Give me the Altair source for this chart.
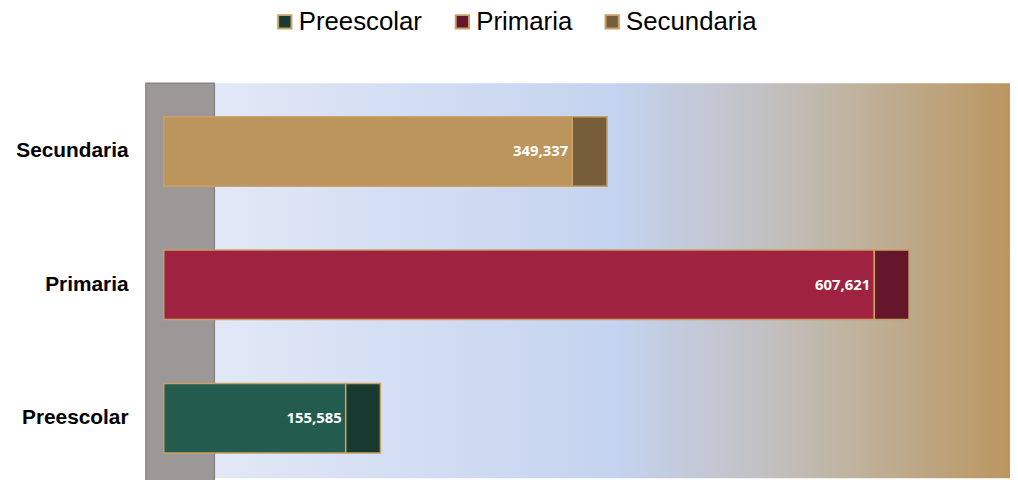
import altair as alt
import pandas as pd

categories = ["Preescolar", "Primaria", "Secundaria"]
values = [155585, 607621, 349337]
labels = ["155,585", "607,621", "349,337"]

front_colors = ["#235b4e", "#9f2241", "#bc955c"]
cap_colors = ["#183a31", "#65162a", "#775e3b"]

df = pd.DataFrame({"category": categories, "value": values, "label": labels})

W = 871
H = 398
x_domain = [-15270, 723626]
y_order = ["Secundaria", "Primaria", "Preescolar"]

ybase = alt.Y("category:N", sort=y_order,
              scale=alt.Scale(domain=y_order, paddingInner=0.4786, paddingOuter=0.2197, align=0.57),
              axis=alt.Axis(title=None, domain=False, ticks=False, labelFont="Liberation Sans",
                            labelFontWeight="bold", labelFontSize=21, labelColor="#000000",
                            labelPadding=18))
xbase = alt.X("value:Q", scale=alt.Scale(domain=x_domain, nice=False, zero=False),
              axis=None)

bg = alt.Chart(pd.DataFrame({"a": [0]})).mark_rect(
    color=alt.LinearGradient(
        gradient="linear", x1=0, x2=1, y1=0, y2=0,
        stops=[
            alt.GradientStop(offset=0.0, color="#e4eaf7"),
            alt.GradientStop(offset=0.077, color="#e2e8f6"),
            alt.GradientStop(offset=0.544, color="#c4d3ef"),
            alt.GradientStop(offset=0.705, color="#c2c2c6"),
            alt.GradientStop(offset=0.809, color="#c0b4a2"),
            alt.GradientStop(offset=1.0, color="#bb9660"),
        ],
    )
).encode(x=alt.value(0), x2=alt.value(W), y=alt.value(0), y2=alt.value(H))

wall = alt.Chart(pd.DataFrame({"a": [0]})).mark_rect(
    color="#9c9897", stroke="#888484", strokeWidth=1.5
).encode(x=alt.value(0), x2=alt.value(69), y=alt.value(0), y2=alt.value(H + 5))

front = alt.Chart(df).transform_calculate(face="datum.category").mark_bar(
    stroke="#c9a066", strokeWidth=1.5
).encode(
    x=xbase,
    x2=alt.datum(0),
    y=ybase,
    fill=alt.Fill("face:N", scale=alt.Scale(domain=categories, range=front_colors), legend=None),
)

cap = alt.Chart(df).mark_bar(stroke="#c9a066", strokeWidth=1.5, x2Offset=35).encode(
    x=xbase,
    x2="value:Q",
    y=ybase,
    color=alt.Color("category:N", scale=alt.Scale(domain=categories, range=cap_colors),
                    legend=alt.Legend(title=None, orient="none", direction="horizontal",
                                      legendX=127, legendY=-75,
                                      labelFont="Liberation Sans", labelFontSize=26,
                                      labelColor="#000000", symbolType="square",
                                      symbolSize=180, symbolStrokeColor="#c9a066",
                                      symbolStrokeWidth=2, symbolOpacity=1,
                                      columnPadding=27, labelOffset=1)),
)

text = alt.Chart(df).mark_text(
    align="right", baseline="middle", dx=-4, font="Open Sans", fontWeight="bold",
    fontSize=15, color="#ffffff"
).encode(x=xbase, y=ybase, text="label:N")

chart = alt.layer(bg, wall, front, cap, text).properties(
    width=W, height=H,
    autosize=alt.AutoSizeParams(type="none"),
    padding={"left": 139, "top": 74, "right": 0, "bottom": 0},
).resolve_scale(fill="independent", color="independent").configure_view(stroke=None)

chart.save("out.html", embed_options={"renderer": "svg", "actions": False})
